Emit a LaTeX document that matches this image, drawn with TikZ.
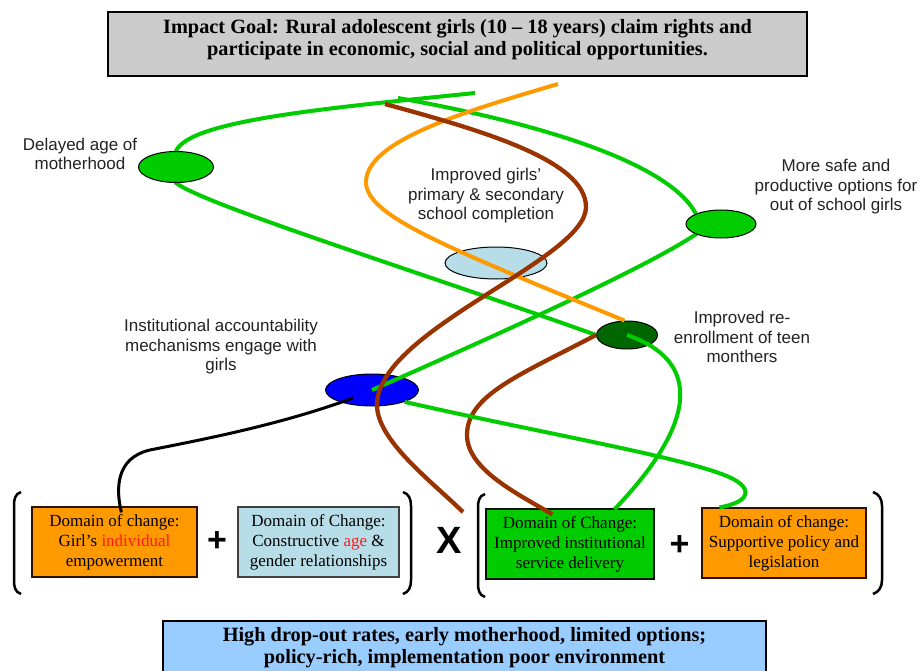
\documentclass[tikz,border=0pt]{standalone}
\usepackage{fontspec}
\setmainfont{Liberation Serif}
\newfontfamily\lsans{Liberation Sans}
\usetikzlibrary{shapes.geometric,calc}
\definecolor{cgreen}{HTML}{00CC00}
\definecolor{cdark}{HTML}{006600}
\definecolor{cblue}{HTML}{0000FF}
\definecolor{clight}{HTML}{B7DEE8}
\definecolor{corange}{HTML}{FF9900}
\definecolor{cbrown}{HTML}{993300}
\definecolor{cgray}{HTML}{CCCCCC}
\definecolor{csky}{HTML}{99CCFF}
\definecolor{cred}{HTML}{FF1A1A}
\definecolor{ctext}{HTML}{222222}
\pgfdeclarelayer{fg}
\pgfsetlayers{main,fg}
\begin{document}
\begin{tikzpicture}[x=1pt,y=-1pt,
  oval/.style={ellipse,draw=black,line width=1pt,inner sep=0pt},
  lbl/.style={font=\lsans\fontsize{17}{19.5}\selectfont,align=center,text=ctext,inner sep=0pt},
  dom/.style={line width=1.2pt,minimum height=70,align=center,inner sep=0pt,
    font=\fontsize{17}{20}\selectfont},
  bigbox/.style={draw=black,line width=1.5pt,inner sep=0pt},
  bigtext/.style={font=\bfseries\fontsize{20.3}{22}\selectfont,align=center,inner sep=0pt},
  gline/.style={draw=cgreen,line width=4pt},
  oline/.style={draw=corange,line width=4pt},
  bline/.style={draw=cbrown,line width=4.3pt},
  kline/.style={draw=black,line width=3pt},
  brk/.style={draw=black,line width=2.5pt},
  opsign/.style={font=\lsans\bfseries\fontsize{34}{34}\selectfont,inner sep=0pt}]
\useasboundingbox (0,0) rectangle (923,671);

% goal and environment boxes
\node[bigbox,fill=cgray,minimum width=699,minimum height=64] (goal) at (457.5,44) {};
\node[bigtext] (goaltext) at (457.5,40) {Impact Goal: Rural adolescent girls (10 – 18 years) claim rights and\\participate in economic, social and political opportunities.};
\node[bigbox,fill=csky,minimum width=603,minimum height=90,anchor=north] (env) at (464.5,620) {};
\node[bigtext] (envtext) at (464.5,648) {High drop-out rates, early motherhood, limited options;\\policy-rich, implementation poor environment};

% domain boxes
\node[dom,draw=black!70!cbrown,fill=corange,minimum width=165] (dom1) at (114.5,542)
  {Domain of change:\\Girl’s {\color{cred}individual}\\empowerment};
\node[dom,draw=black!75,fill=clight,minimum width=161] (dom2) at (318.5,542)
  {Domain of Change:\\Constructive {\color{cred}age} \&\\gender relationships};
\node[dom,draw=black!80!cdark,fill=cgreen,minimum width=168] (dom3) at (570,544)
  {Domain of Change:\\Improved institutional\\service delivery};
\node[dom,draw=black!70!cbrown,fill=corange,minimum width=164] (dom4) at (784,543)
  {Domain of change:\\Supportive policy and\\legislation};

\node[opsign] (plus1) at (217,542) {+};
\node[opsign] (plus2) at (679.5,546) {+};
\node[font=\lsans\bfseries\fontsize{38}{38}\selectfont,inner sep=0pt] (times) at (449.5,540) {X};

% brackets
\draw[brk] (21,492) .. controls (15,494) and (14,499) .. (14,506) -- (14,580) .. controls (14,587) and (15,592) .. (21,594);
\draw[brk] (403,492) .. controls (409,494) and (411,499) .. (411,506) -- (411,580) .. controls (411,587) and (409,592) .. (403,594);
\draw[brk] (485,494) .. controls (479,496) and (478,501) .. (478,508) -- (478,583) .. controls (478,590) and (479,595) .. (485,597);
\draw[brk] (873,492) .. controls (879,494) and (882,499) .. (882,506) -- (882,580) .. controls (882,587) and (879,592) .. (873,594);

% outcome ellipses
\begin{pgfonlayer}{fg}
\node[oval,fill=cgreen,minimum width=75,minimum height=31] (D) at (176,167) {};
\node[oval,fill=cgreen,minimum width=70,minimum height=28] (M) at (721,224) {};
\end{pgfonlayer}
\node[oval,fill=clight,minimum width=102,minimum height=32] (S) at (496,263) {};
\node[oval,fill=cdark,minimum width=61,minimum height=28] (R) at (627,335) {};
\node[oval,fill=cblue,minimum width=93,minimum height=32] (B) at (372,390) {};

% labels
\node[lbl] (Dl) at (80,154) {Delayed age of\\motherhood};
\node[lbl] (Sl) at (486,196) {Improved girls’\\primary \& secondary\\school completion};
\node[lbl] (Ml) at (836,187) {More safe and\\productive options for\\out of school girls};
\node[lbl] (Rl) at (742,337) {Improved re-\\enrollment of teen\\monthers};
\node[lbl] (Bl) at (221,347) {Institutional accountability\\mechanisms engage with\\girls};

% free ends
\coordinate (g1s) at (475,93);
\coordinate (g2s) at (398,98);
\coordinate (os) at (558,84);
\coordinate (b1s) at (385,104);
\coordinate (b1e) at (463,512);

% connectors
\draw[gline] (g1s) .. controls (330,108) and (190,120) .. (D.north) -- (D.south)
  .. controls (205,205) and (420,272) .. (R.west);
\draw[gline] (g2s) .. controls (550,125) and (670,165) .. (M.north west) -- (M.south west)
  .. controls (650,265) and (520,325) .. (B.center);
\draw[oline] (os) .. controls (470,110) and (366,140) .. (366,182)
  .. controls (366,215) and (440,245) .. (R.100);
\draw[bline] (b1s) .. controls (480,130) and (586,160) .. (586,207)
  .. controls (586,260) and (377,330) .. (377,405)
  .. controls (377,440) and (430,480) .. (b1e);
\draw[bline] (R.west) .. controls (520,375) and (467,395) .. (467,435)
  .. controls (467,470) and (520,495) .. ($(dom3.north west)+(67,6)$);
\draw[gline] (R.center) .. controls (700,360) and (700,420) .. ($(dom3.north west)+(129,1)$);
\draw[gline] (B.-20) .. controls (550,435) and (700,460) .. (735,480)
  .. controls (755,492) and (745,503) .. ($(dom4.north west)+(18,0)$);
\draw[kline] ($(B.center)+(-19,8)$) .. controls (280,425) and (200,440) .. (150,450)
  .. controls (115,458) and (116,490) .. ($(dom1.north west)+(90,6)$);
\end{tikzpicture}
\end{document}
